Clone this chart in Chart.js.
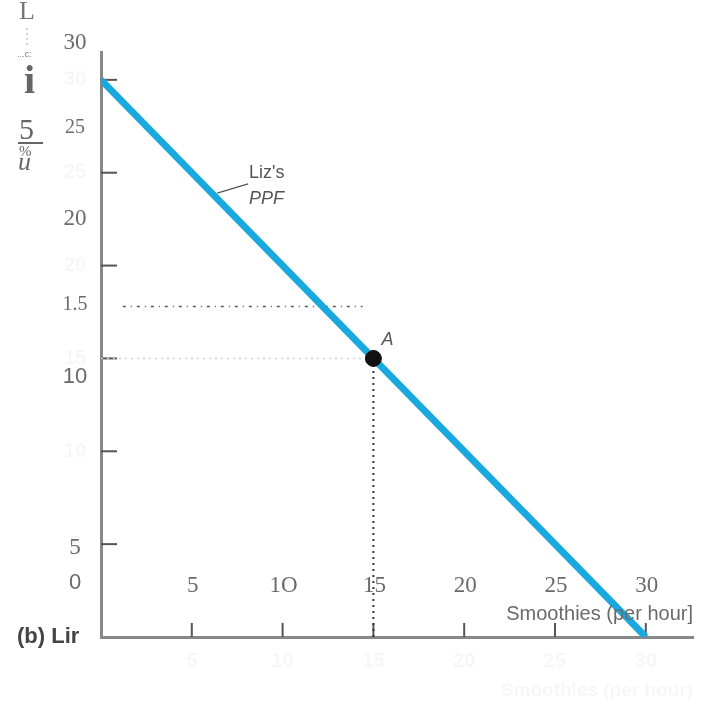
<!DOCTYPE html>
<html lang="en">
<head>
    <meta charset="UTF-8">
    <title>Liz's PPF</title>
    <style>
        html, body { margin: 0; padding: 0; background: #fff; }
        canvas { display: block; }
    </style>
</head>
<body>

<canvas id="ppfChart" width="702" height="707"></canvas>

<script src="https://cdn.jsdelivr.net/npm/chart.js"></script>
<script>
    // PPF end points (smoothies, other good) and the chosen point A
    const ppfSmoothies = [0, 30];
    const ppfOther = [30, 0];
    const pointA = [15, 15];

    // tick values and the (scrambled) labels as they sit in the picture
    const tickValues = [5, 10, 15, 20, 25, 30];
    const xLabels = ['5', '1O', '15', '20', '25', '30'];
    const yLabels = ['30', '25', '20', '1.5', '10', '5', '0'];
    const yLabelAt = [32.0, 27.4, 22.5, 17.9, 14.0, 4.8, 2.9];
    const xLabelRow = 2.75;

    // stray dotted line above A
    const upperDotX = [1.2, 14.4];
    const upperDotY = [17.8, 17.8];

    const serif = '"Liberation Serif", "DejaVu Serif", serif';
    const sans = '"Liberation Sans", Arial, sans-serif';

    const drawExtras = {
        id: 'drawExtras',
        beforeDatasetsDraw(chart) {
            const ctx = chart.ctx;
            const xs = chart.scales.x, ys = chart.scales.y;
            ctx.save();
            ctx.strokeStyle = '#555';
            ctx.lineWidth = 2;
            // inward tick marks
            tickValues.forEach(v => {
                const px = xs.getPixelForValue(v);
                ctx.beginPath();
                ctx.moveTo(px, ys.bottom);
                ctx.lineTo(px, ys.bottom - 14);
                ctx.stroke();
                const py = ys.getPixelForValue(v);
                ctx.beginPath();
                ctx.moveTo(xs.left, py);
                ctx.lineTo(xs.left + 16, py);
                ctx.stroke();
            });
            ctx.restore();
        },
        afterDraw(chart) {
            const ctx = chart.ctx;
            const xs = chart.scales.x, ys = chart.scales.y;
            ctx.save();
            ctx.textAlign = 'center';
            ctx.textBaseline = 'middle';

            // faint ghost labels from the original figure
            ctx.fillStyle = 'rgba(0,0,0,0.035)';
            ctx.font = 'bold 20px ' + sans;
            tickValues.forEach(v => {
                ctx.fillText(String(v), xs.getPixelForValue(v), ys.bottom + 24);
                ctx.fillText(String(v), xs.left - 26, ys.getPixelForValue(v));
            });
            ctx.font = 'bold 19px ' + sans;
            ctx.textAlign = 'right';
            ctx.fillText('Smoothies (per hour)', xs.right, ys.bottom + 54);
            ctx.textAlign = 'center';

            // y column of labels
            ctx.fillStyle = '#6a6a6a';
            yLabels.forEach((t, i) => {
                const isSans = (t === '10' || t === '0');
                let size = isSans ? 22 : 23;
                if (t === '1.5' || t === '25') size = 20;
                ctx.font = size + 'px ' + (isSans ? sans : serif);
                ctx.fillText(t, xs.left - 26, ys.getPixelForValue(yLabelAt[i]));
            });

            // x labels, lifted above the axis
            ctx.font = '23px ' + serif;
            tickValues.forEach((v, i) => {
                ctx.fillText(xLabels[i], xs.getPixelForValue(v) + 1, ys.getPixelForValue(xLabelRow));
            });

            // axis title
            ctx.font = '20px ' + sans;
            ctx.textAlign = 'right';
            ctx.fillText('Smoothies (per hour]', xs.right, ys.bottom - 23);

            // curve label and leader
            ctx.strokeStyle = '#555';
            ctx.lineWidth = 1.2;
            ctx.beginPath();
            ctx.moveTo(xs.getPixelForValue(6.4), ys.getPixelForValue(23.9));
            ctx.lineTo(xs.getPixelForValue(8.1), ys.getPixelForValue(24.4));
            ctx.stroke();
            ctx.fillStyle = '#555';
            ctx.textAlign = 'left';
            ctx.font = '18px ' + sans;
            ctx.fillText("Liz's", xs.getPixelForValue(8.15), ys.getPixelForValue(25.0));
            ctx.font = 'italic 18px ' + sans;
            ctx.fillText('PPF', xs.getPixelForValue(8.15), ys.getPixelForValue(23.6));
            ctx.font = 'italic 18px ' + sans;
            ctx.fillText('A', xs.getPixelForValue(15.45), ys.getPixelForValue(16.0));

            // panel caption
            ctx.fillStyle = '#444';
            ctx.font = 'bold 22px ' + sans;
            ctx.fillText('(b) Lir', 17, ys.bottom);

            // broken left-hand title fragments
            ctx.fillStyle = '#777';
            ctx.font = '26px ' + serif;
            ctx.fillText('L', 19, 12);
            ctx.strokeStyle = '#aaa';
            ctx.lineWidth = 1;
            ctx.setLineDash([2, 3]);
            ctx.beginPath();
            ctx.moveTo(27, 28);
            ctx.lineTo(27, 47);
            ctx.stroke();
            ctx.setLineDash([]);
            ctx.font = '9px ' + sans;
            ctx.fillText('...c:', 17, 55);
            ctx.fillStyle = '#666';
            ctx.font = 'bold 40px ' + serif;
            ctx.fillText('i', 24, 83);
            ctx.font = '30px ' + serif;
            ctx.fillText('5', 19, 131);
            ctx.fillRect(18, 142, 25, 2);
            ctx.font = '15px ' + serif;
            ctx.fillText('%', 19, 152);
            ctx.font = 'italic 26px ' + serif;
            ctx.fillText('u', 18, 163);
            ctx.restore();
        }
    };

    new Chart(document.getElementById('ppfChart').getContext('2d'), {
        type: 'scatter',
        data: {
            datasets: [
                {
                    label: 'A',
                    data: [{ x: pointA[0], y: pointA[1] }],
                    backgroundColor: '#111',
                    borderColor: '#111',
                    pointRadius: 8,
                    order: 0
                },
                {
                    label: "Liz's PPF",
                    data: ppfSmoothies.map((s, i) => ({ x: s, y: ppfOther[i] })),
                    showLine: true,
                    borderColor: '#1aa9de',
                    borderWidth: 7,
                    pointRadius: 0,
                    order: 1
                },
                {
                    label: 'guide y',
                    data: [{ x: 0, y: pointA[1] }, { x: pointA[0], y: pointA[1] }],
                    showLine: true,
                    borderColor: '#d4d4d4',
                    borderWidth: 1.5,
                    borderDash: [2, 4],
                    pointRadius: 0,
                    order: 2
                },
                {
                    label: 'guide x',
                    data: [{ x: pointA[0], y: 0 }, { x: pointA[0], y: pointA[1] }],
                    showLine: true,
                    borderColor: '#333',
                    borderWidth: 2,
                    borderDash: [2, 4],
                    pointRadius: 0,
                    order: 2
                },
                {
                    label: 'upper dots',
                    data: upperDotX.map((x, i) => ({ x: x, y: upperDotY[i] })),
                    showLine: true,
                    borderColor: '#555',
                    borderWidth: 1.5,
                    borderDash: [3, 5, 1, 5],
                    pointRadius: 0,
                    order: 2
                }
            ]
        },
        options: {
            responsive: false,
            animation: false,
            layout: { padding: { left: 93, top: 52, right: 0, bottom: 62 } },
            plugins: { legend: { display: false }, tooltip: { enabled: false } },
            scales: {
                x: {
                    type: 'linear',
                    min: 0,
                    max: 32.6,
                    ticks: { display: false },
                    grid: { display: false },
                    border: { display: true, color: '#888', width: 3 }
                },
                y: {
                    type: 'linear',
                    min: 0,
                    max: 31.5,
                    ticks: { display: false },
                    grid: { display: false },
                    border: { display: true, color: '#888', width: 3 }
                }
            }
        },
        plugins: [drawExtras]
    });
</script>
</body>
</html>
